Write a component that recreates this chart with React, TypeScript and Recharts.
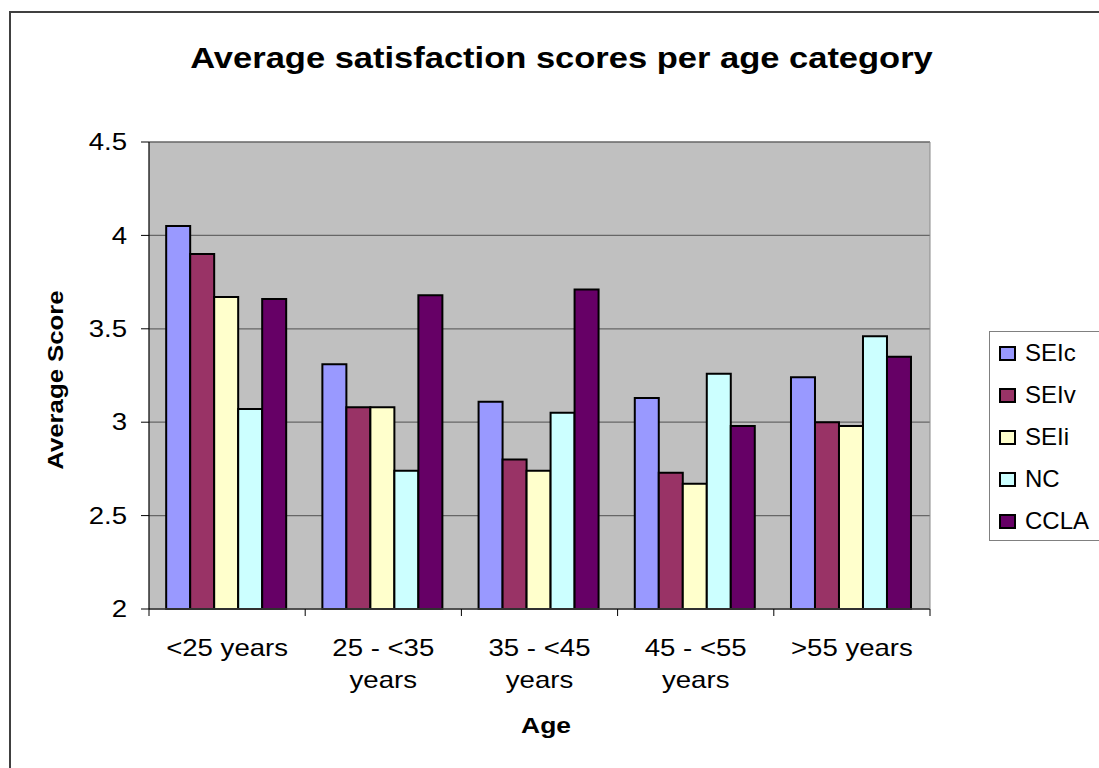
import React from 'react';
import {
  BarChart,
  Bar,
  XAxis,
  YAxis,
  CartesianGrid,
  Legend,
} from 'recharts';

// Age brackets on the category axis
const ageGroups = ['<25 years', '25 - <35 years', '35 - <45 years', '45 - <55 years', '>55 years'];

// Average satisfaction score of each instrument per age bracket
const seicScores = [4.05, 3.31, 3.11, 3.13, 3.24];
const seivScores = [3.9, 3.08, 2.8, 2.73, 3.0];
const seiiScores = [3.67, 3.08, 2.74, 2.67, 2.98];
const ncScores = [3.07, 2.74, 3.05, 3.26, 3.46];
const cclaScores = [3.66, 3.68, 3.71, 2.98, 3.35];

const yTicks = [2, 2.5, 3, 3.5, 4, 4.5];

const seriesList = [
  { key: 'SEIc', values: seicScores, color: '#9999FF' },
  { key: 'SEIv', values: seivScores, color: '#993366' },
  { key: 'SEIi', values: seiiScores, color: '#FFFFCC' },
  { key: 'NC', values: ncScores, color: '#CCFFFF' },
  { key: 'CCLA', values: cclaScores, color: '#660066' },
];

const rows = ageGroups.map((age, i) => {
  const row: Record<string, string | number> = { age };
  seriesList.forEach((s) => {
    row[s.key] = s.values[i];
  });
  return row;
});

const FONT = '"Liberation Sans", Arial, Helvetica, sans-serif';
const TICK_LEN = 7;

// Long labels break before the trailing word, short ones stay on one line
const splitLabel = (label: string): string[] => {
  if (label.length <= 10) return [label];
  const cut = label.lastIndexOf(' ');
  return [label.slice(0, cut), label.slice(cut + 1)];
};

// Category label plus tick marks on the band boundaries
const AgeTick = (props: any) => {
  const { x, y, payload, index, visibleTicksCount } = props;
  const half = payload.offset || 0;
  const lines = splitLabel(String(payload.value));
  const isLast = index === visibleTicksCount - 1;
  return (
    <g>
      <line x1={x - half} x2={x - half} y1={y} y2={y + TICK_LEN} stroke="#000" strokeWidth={1} />
      {isLast && (
        <line x1={x + half} x2={x + half} y1={y} y2={y + TICK_LEN} stroke="#000" strokeWidth={1} />
      )}
      <g transform={`translate(${x},${y}) scale(1.2,1)`}>
        <text textAnchor="middle" fontSize={23} fontFamily={FONT} fill="#000">
          {lines.map((line, i) => (
            <tspan key={i} x={0} y={47 + i * 32}>
              {line}
            </tspan>
          ))}
        </text>
      </g>
    </g>
  );
};

const ScoreTick = (props: any) => {
  const { x, y, payload } = props;
  return (
    <g transform={`translate(${x},${y}) scale(1.2,1)`}>
      <text textAnchor="end" dy="0.36em" fontSize={23} fontFamily={FONT} fill="#000">
        {String(payload.value)}
      </text>
    </g>
  );
};

const LegendBox = (props: any) => {
  const payload = [...(props.payload || [])].sort(
    (a: any, b: any) =>
      seriesList.findIndex((s) => s.key === a.value) - seriesList.findIndex((s) => s.key === b.value)
  );
  return (
    <div style={{ fontFamily: FONT }}>
      {payload.map((entry: any) => (
        <div
          key={entry.value}
          style={{ height: 42, display: 'flex', alignItems: 'center' }}
        >
          <span
            style={{
              display: 'inline-block',
              width: 13,
              height: 11,
              marginLeft: 9,
              marginRight: 9,
              border: '2px solid #000',
              background: entry.color,
            }}
          />
          <span style={{ fontSize: 24, color: '#000', lineHeight: '24px' }}>{entry.value}</span>
        </div>
      ))}
    </div>
  );
};

export default function App() {
  return (
    <div
      style={{
        position: 'absolute',
        left: 0,
        top: 0,
        width: 1099,
        height: 768,
        overflow: 'hidden',
        background: '#fff',
      }}
    >
      <div
        style={{
          position: 'absolute',
          left: 9,
          top: 11,
          width: 1200,
          height: 900,
          borderLeft: '2px solid #404040',
          borderTop: '2px solid #404040',
        }}
      />
      <div style={{ position: 'absolute', left: 0, top: 0 }}>
        <BarChart
          width={1099}
          height={768}
          data={rows}
          margin={{ top: 142, right: 168, bottom: 158, left: 69 }}
          barCategoryGap="11%"
          barGap={0}
        >
          <CartesianGrid
            vertical={false}
            fill="#C0C0C0"
            fillOpacity={1}
            stroke="#666666"
            strokeWidth={1.3}
          />
          <XAxis
            dataKey="age"
            height={1}
            tickLine={false}
            axisLine={{ stroke: '#404040', strokeWidth: 1.5 }}
            tickSize={0}
            tickMargin={0}
            interval={0}
            tick={<AgeTick />}
          />
          <YAxis
            width={80}
            domain={[2, 4.5]}
            ticks={yTicks}
            interval={0}
            tickSize={8}
            tickMargin={14}
            tickLine={{ stroke: '#000', strokeWidth: 1 }}
            axisLine={{ stroke: '#000', strokeWidth: 1.2 }}
            tick={<ScoreTick />}
          />
          <YAxis
            yAxisId="frame"
            orientation="right"
            width={1}
            domain={[2, 4.5]}
            ticks={yTicks}
            tick={false}
            tickLine={false}
            axisLine={{ stroke: '#8a8a8a', strokeWidth: 1 }}
          />
          <Legend
            layout="vertical"
            align="center"
            verticalAlign="middle"
            content={<LegendBox />}
            wrapperStyle={{
              left: 989,
              top: 331,
              width: 140,
              height: 210,
              border: '1px solid #808080',
              background: '#fff',
              boxSizing: 'border-box',
            }}
          />
          {seriesList.map((s) => (
            <Bar
              key={s.key}
              dataKey={s.key}
              name={s.key}
              fill={s.color}
              stroke="#000"
              strokeWidth={2}
              isAnimationActive={false}
            />
          ))}
        </BarChart>
      </div>
      <svg
        width={1099}
        height={768}
        style={{ position: 'absolute', left: 0, top: 0, pointerEvents: 'none' }}
      >
        <g transform="translate(561.5,68) scale(1.19,1)">
          <text textAnchor="middle" fontSize={29} fontWeight="bold" fontFamily={FONT} fill="#000">
            Average satisfaction scores per age category
          </text>
        </g>
        <g transform="translate(63,380) rotate(-90) scale(1.17,1)">
          <text textAnchor="middle" fontSize={22} fontWeight="bold" fontFamily={FONT} fill="#000">
            Average Score
          </text>
        </g>
        <g transform="translate(546,733) scale(1.2,1)">
          <text textAnchor="middle" fontSize={22} fontWeight="bold" fontFamily={FONT} fill="#000">
            Age
          </text>
        </g>
      </svg>
    </div>
  );
}
